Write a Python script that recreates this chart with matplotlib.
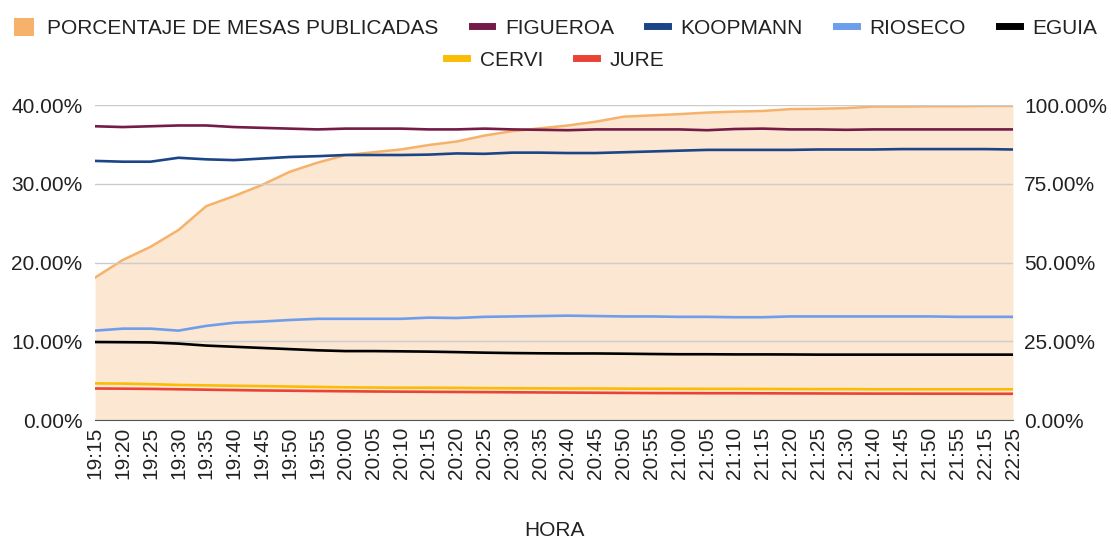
import numpy as np
import matplotlib.pyplot as plt
from matplotlib.lines import Line2D
from matplotlib.patches import Patch
from matplotlib.ticker import FuncFormatter

plt.rcParams['font.family'] = ['Liberation Sans', 'DejaVu Sans']

# ---------------- data ----------------
horas = ["19:15", "19:20", "19:25", "19:30", "19:35", "19:40", "19:45", "19:50", "19:55",
         "20:00", "20:05", "20:10", "20:15", "20:20", "20:25", "20:30", "20:35", "20:40",
         "20:45", "20:50", "20:55", "21:00", "21:05", "21:10", "21:15", "21:20", "21:25",
         "21:30", "21:40", "21:45", "21:50", "21:55", "22:15", "22:25"]

mesas = [45.2, 50.8, 55.0, 60.3, 67.9, 71.1, 74.6, 78.8, 81.7, 84.1, 85.0, 85.9, 87.3,
         88.4, 90.3, 91.7, 92.6, 93.5, 94.7, 96.3, 96.7, 97.1, 97.6, 97.9, 98.1, 98.7,
         98.8, 99.0, 99.5, 99.5, 99.6, 99.6, 99.7, 99.7]

figueroa = [37.3, 37.2, 37.3, 37.4, 37.4, 37.2, 37.1, 37.0, 36.9, 37.0, 37.0, 37.0, 36.9,
            36.9, 37.0, 36.9, 36.85, 36.8, 36.9, 36.9, 36.9, 36.9, 36.8, 36.95, 37.0, 36.9,
            36.9, 36.85, 36.9, 36.9, 36.9, 36.9, 36.9, 36.9]

koopmann = [32.9, 32.8, 32.8, 33.3, 33.1, 33.0, 33.2, 33.4, 33.5, 33.65, 33.65, 33.65, 33.7,
            33.85, 33.8, 33.95, 33.95, 33.9, 33.9, 34.0, 34.1, 34.2, 34.3, 34.3, 34.3, 34.3,
            34.35, 34.35, 34.35, 34.4, 34.4, 34.4, 34.4, 34.35]

rioseco = [11.35, 11.6, 11.6, 11.35, 11.95, 12.35, 12.5, 12.7, 12.85, 12.85, 12.85, 12.85,
           13.0, 12.95, 13.1, 13.15, 13.2, 13.25, 13.2, 13.15, 13.15, 13.1, 13.1, 13.05,
           13.05, 13.15, 13.15, 13.15, 13.15, 13.15, 13.15, 13.1, 13.1, 13.1]

eguia = [9.9, 9.88, 9.85, 9.7, 9.45, 9.3, 9.15, 9.0, 8.85, 8.75, 8.75, 8.72, 8.68, 8.62,
         8.55, 8.5, 8.47, 8.45, 8.45, 8.42, 8.38, 8.35, 8.35, 8.33, 8.33, 8.32, 8.3, 8.3,
         8.3, 8.3, 8.3, 8.3, 8.3, 8.3]

cervi = [4.65, 4.62, 4.55, 4.45, 4.4, 4.35, 4.3, 4.25, 4.2, 4.15, 4.12, 4.1, 4.1, 4.08,
         4.05, 4.03, 4.02, 4.0, 4.0, 3.98, 3.97, 3.96, 3.95, 3.95, 3.94, 3.93, 3.92, 3.92,
         3.9, 3.9, 3.9, 3.9, 3.9, 3.9]

jure = [4.0, 3.98, 3.95, 3.9, 3.85, 3.8, 3.75, 3.72, 3.68, 3.65, 3.62, 3.6, 3.58, 3.56,
        3.54, 3.52, 3.5, 3.48, 3.46, 3.44, 3.42, 3.41, 3.4, 3.4, 3.39, 3.38, 3.37, 3.36,
        3.35, 3.35, 3.34, 3.34, 3.33, 3.33]

candidatos = [("FIGUEROA", figueroa, "#741b47"),
              ("KOOPMANN", koopmann, "#1c4587"),
              ("RIOSECO", rioseco, "#6d9eeb"),
              ("EGUIA", eguia, "#000000"),
              ("CERVI", cervi, "#fbbc04"),
              ("JURE", jure, "#ea4335")]

FS = 15

# ---------------- plot ----------------
fig = plt.figure(figsize=(11.11, 5.39), dpi=100)
ax = fig.add_axes([95 / 1111, 1 - 420 / 539, (1013 - 95) / 1111, 315 / 539])
ax2 = ax.twinx()
ax.set_zorder(ax2.get_zorder() + 1)
ax.patch.set_visible(False)

x = np.arange(len(horas))

# area (right axis)
ax2.fill_between(x, 0, mesas, color="#f6b26b", alpha=0.3, lw=0)
ax2.plot(x, mesas, color="#f6b26b", lw=1.8)
ax2.set_ylim(0, 100)
ax2.set_yticks([0, 25, 50, 75, 100])

for nombre, vals, col in candidatos:
    ax.plot(x, vals, color=col, lw=1.9, zorder=3)

ax.set_ylim(0, 40)
ax.set_yticks([0, 10, 20, 30, 40])
ax.set_xlim(0, len(horas) - 1)
ax.set_xticks(x)
ax.set_xticklabels(horas, rotation=90)
ax.grid(axis="y", color="#cccccc", lw=1, zorder=1)
ax.set_axisbelow(True)

pct = FuncFormatter(lambda v, p: "%.2f%%" % v)
ax.yaxis.set_major_formatter(pct)
ax2.yaxis.set_major_formatter(pct)

for a in (ax, ax2):
    for s in ("top", "left", "right"):
        a.spines[s].set_visible(False)
    a.tick_params(length=0, labelsize=FS, colors="#222222")
ax.spines["bottom"].set_color("#555555")
ax2.spines["bottom"].set_visible(False)
ax.tick_params(axis="y", pad=9)
ax2.tick_params(axis="y", pad=8)
ax.tick_params(axis="x", pad=5)

ax.set_xlabel("HORA", fontsize=FS, color="#222222", labelpad=30)

# legends
h1 = [Patch(facecolor="#f6b26b", edgecolor="none", label="PORCENTAJE DE MESAS PUBLICADAS")]
for nombre, vals, col in candidatos[:4]:
    h1.append(Line2D([], [], color=col, lw=5, label=nombre))
h2 = [Line2D([], [], color=col, lw=5, label=nombre) for nombre, vals, col in candidatos[4:]]

kw = dict(loc="center", frameon=False, fontsize=FS, handlelength=1.0, handleheight=1.0,
          handletextpad=0.6, columnspacing=1.6, labelcolor="#222222")
fig.legend(handles=h1, ncol=5, bbox_to_anchor=(0.5, 1 - 28 / 539), **kw)
fig.legend(handles=h2, ncol=2, bbox_to_anchor=(0.5, 1 - 60 / 539), **kw)

plt.savefig("out.png", dpi=100)
